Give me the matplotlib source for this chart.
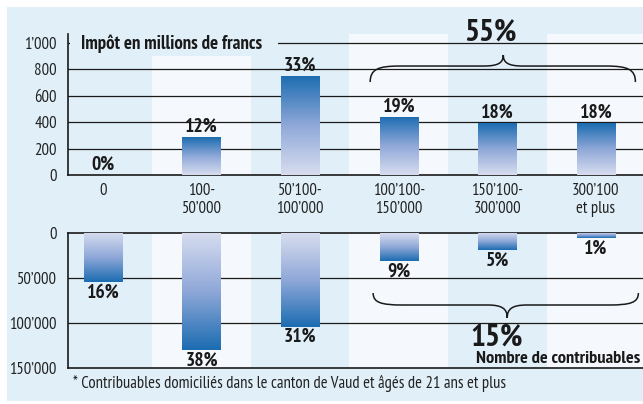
import matplotlib
matplotlib.use("Agg")
import matplotlib.pyplot as plt
import numpy as np
from matplotlib.colors import LinearSegmentedColormap
from matplotlib.patches import Rectangle, PathPatch
from matplotlib.path import Path

# income classes (francs)
categories = ["0", "100-\n50’000", "50’100-\n100’000", "100’100-\n150’000",
              "150’100-\n300’000", "300’100\net plus"]
impot = [0, 285, 750, 440, 390, 390]          # impôt, millions de francs
impot_pct = [0, 12, 33, 19, 18, 18]
contribuables = [55000, 130000, 104000, 31000, 19000, 6000]
contrib_pct = [16, 38, 31, 9, 5, 1]
impot_ticks = [0, 200, 400, 600, 800, 1000]
impot_ticklabels = ["0", "200", "400", "600", "800", "1’000"]
contrib_ticks = [0, 50000, 100000, 150000]
contrib_ticklabels = ["0", "50’000", "100’000", "150’000"]
top_group = [3, 4, 5]

W, H = 643, 404
BG = "#e0eff8"
BAND = "#f5f9fd"
INK = "#1a1a1a"
NARROW = ["PT Sans Narrow", "Liberation Sans", "DejaVu Sans"]
plt.rcParams["font.family"] = NARROW
blues = LinearSegmentedColormap.from_list("blues", ["#d8ddef", "#8fa8d8", "#1b6cb1"])


def fx(px):
    return px / W


def fy(py):
    return 1 - py / H


def gradient_bars(ax, xs, vals, width=0.39):
    bars = ax.bar(xs, vals, width=width, color="none", edgecolor="none", zorder=3)
    grad = np.linspace(0, 1, 256).reshape(-1, 1)
    for b, v in zip(bars, vals):
        if v <= 0:
            continue
        im = ax.imshow(grad, cmap=blues, aspect="auto", origin="lower", zorder=3,
                       extent=[b.get_x(), b.get_x() + b.get_width(), 0, v])
        im.set_clip_path(b)
    return bars


def brace(ax, x0, x1, xm, ye, yf, yt, r_end=0.3, r_tip=0.2):
    verts = [(x0, ye),
             (x0, ye + 0.8 * (yf - ye)), (x0 + 0.08, yf), (x0 + r_end, yf),
             (xm - r_tip, yf),
             (xm - 0.05, yf), (xm, yf + 0.3 * (yt - yf)), (xm, yt),
             (xm, yf + 0.3 * (yt - yf)), (xm + 0.05, yf), (xm + r_tip, yf),
             (x1 - r_end, yf),
             (x1 - 0.08, yf), (x1, ye + 0.8 * (yf - ye)), (x1, ye)]
    codes = [Path.MOVETO] + [Path.CURVE4] * 3 + [Path.LINETO] + [Path.CURVE4] * 6 \
        + [Path.LINETO] + [Path.CURVE4] * 3
    ax.add_patch(PathPatch(Path(verts, codes), facecolor="none", edgecolor=INK,
                           lw=1.1, clip_on=False, zorder=5))


fig = plt.figure(figsize=(6.43, 4.04), dpi=100, facecolor="white")
fig.add_artist(Rectangle((fx(7), fy(401)), 1 - fx(7), fy(7) - fy(401),
                         transform=fig.transFigure, facecolor=BG, edgecolor="none", zorder=-10))

x = np.arange(len(categories))
ax1 = fig.add_axes([fx(68), fy(175), 1 - fx(68), fy(34) - fy(175)])
ax2 = fig.add_axes([fx(68), fy(368), 1 - fx(68), fy(233) - fy(368)])

for ax in (ax1, ax2):
    ax.set_facecolor("none")
    for i in (1, 3, 5):
        ax.axvspan(i - 0.5, i + 0.5, color=BAND, zorder=0, lw=0)
    ax.spines["right"].set_visible(False)
    for s in ("left", "bottom", "top"):
        ax.spines[s].set_color(INK)
        ax.spines[s].set_linewidth(1.2)

# --- upper panel: tax amount
for t in impot_ticks[1:]:
    ax1.axhline(t, color=INK, lw=0.9, zorder=1)
gradient_bars(ax1, x, impot)
for xi, v, p in zip(x, impot, impot_pct):
    ax1.annotate(f"{p}%", (xi, v), xytext=(0, 1), textcoords="offset points",
                 ha="center", va="bottom", fontsize=14, fontweight="bold", color=INK)
ax1.spines["top"].set_visible(False)
ax1.set_xlim(-0.355, 5.477)
ax1.set_ylim(0, 1065)
ax1.set_yticks(impot_ticks, impot_ticklabels)
ax1.set_xticks(x, categories)
ax1.tick_params(axis="y", length=0, pad=8, labelsize=12, labelcolor="#222222")
ax1.tick_params(axis="x", length=0, pad=6, labelsize=12, labelcolor="#222222")
for lbl in ax1.get_xticklabels():
    lbl.set_linespacing(1.15)

ax1.add_patch(Rectangle((fx(69.5), fy(56)), fx(278) - fx(69.5), fy(30) - fy(56),
                        transform=fig.transFigure, facecolor=BG, edgecolor="none",
                        zorder=1.5, clip_on=False))
ax1.text(fx(81), fy(44), "Impôt en millions de francs", transform=fig.transFigure,
         ha="left", va="center", fontsize=13.5, fontweight="bold", color=INK, zorder=6)

brace(ax1, 2.71, 5.40, 4.06, 702, 823, 906)
fig.text(fx(490), fy(33), f"{sum(impot_pct[i] for i in top_group)}%", ha="center",
         va="center", fontsize=22.5, fontweight="bold", color=INK)

# --- lower panel: number of taxpayers
ax2.axhline(50000, color=INK, lw=0.9, zorder=1)
ax2.axhline(100000, color=INK, lw=0.9, zorder=1)
gradient_bars(ax2, x, contribuables)
for xi, v, p in zip(x, contribuables, contrib_pct):
    ax2.annotate(f"{p}%", (xi, v), xytext=(0, -1), textcoords="offset points",
                 ha="center", va="top", fontsize=14, fontweight="bold", color=INK)
ax2.set_xlim(-0.355, 5.477)
ax2.set_ylim(150000, 0)
ax2.set_yticks(contrib_ticks, contrib_ticklabels)
ax2.set_xticks([])
ax2.tick_params(axis="y", length=0, pad=8, labelsize=12, labelcolor="#222222")

brace(ax2, 2.74, 5.43, 4.10, 66700, 80000, 94400)
fig.text(fx(497), fy(338), f"{sum(contrib_pct[i] for i in top_group)}%", ha="center",
         va="center", fontsize=22.5, fontweight="bold", color=INK)
fig.text(fx(476), fy(359), "Nombre de contribuables", ha="left", va="center",
         fontsize=13.2, fontweight="bold", color=INK)

fig.text(fx(73), fy(383),
         "* Contribuables domiciliés dans le canton de Vaud et âgés de 21 ans et plus",
         ha="left", va="center", fontsize=12, color="#222222")

fig.savefig("out.png", dpi=100, facecolor="white")
